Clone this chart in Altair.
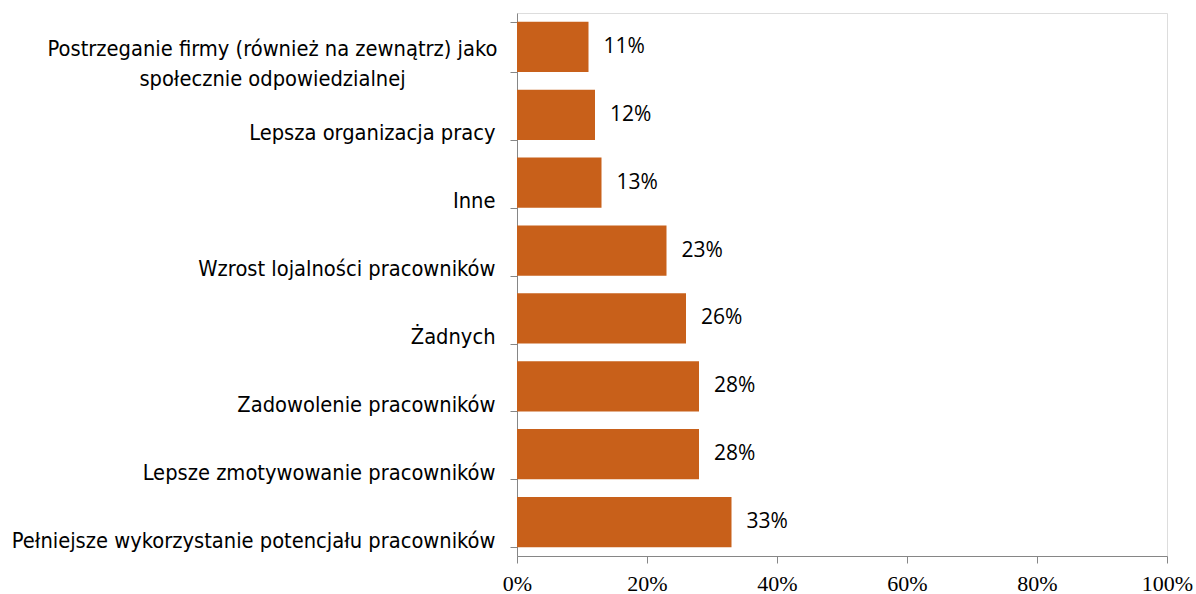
import altair as alt
import pandas as pd

categories = [
    "Postrzeganie firmy (również na zewnątrz) jako|społecznie odpowiedzialnej",
    "Lepsza organizacja pracy",
    "Inne",
    "Wzrost lojalności pracowników",
    "Żadnych",
    "Zadowolenie pracowników",
    "Lepsze zmotywowanie pracowników",
    "Pełniejsze wykorzystanie potencjału pracowników",
]
values = [0.11, 0.12, 0.13, 0.23, 0.26, 0.28, 0.28, 0.33]
x_ticks = [0, 0.2, 0.4, 0.6, 0.8, 1.0]

df = pd.DataFrame({"cat": categories, "val": values})
first = categories[0]

CAT_FONT = "'DejaVu Sans Condensed', 'Open Sans', sans-serif"
FONT = "Open Sans"

y_enc = alt.Y(
    "cat:N",
    sort=categories,
    scale=alt.Scale(paddingInner=0.26, paddingOuter=0.13),
    axis=alt.Axis(
        title=None,
        domainColor="#868686",
        tickColor="#868686",
        tickBand="extent",
        tickSize=7,
        labelFont=CAT_FONT,
        labelFontSize=21.7,
        labelColor="#000000",
        labelLimit=600,
        labelLineHeight=30,
        labelExpr="split(datum.label, '|')",
        labelAlign=alt.expr(f"datum.value == '{first}' ? 'center' : 'right'"),
        labelPadding=alt.expr(f"datum.value == '{first}' ? 238 : 15"),
        labelOffset=alt.expr(f"datum.value == '{first}' ? 2 : 18"),
    ),
)

x_enc = alt.X(
    "val:Q",
    scale=alt.Scale(domain=[0, 1], nice=False),
    axis=alt.Axis(
        title=None,
        values=x_ticks,
        format=".0%",
        grid=False,
        domainColor="#868686",
        tickColor="#868686",
        tickSize=7,
        labelFont="Liberation Serif",
        labelFontSize=22,
        labelColor="#000000",
        labelPadding=10,
        labelFlush=False,
    ),
)

bars = alt.Chart(df).mark_bar(color="#C8601A").encode(x=x_enc, y=y_enc)

labels = alt.Chart(df).mark_text(
    align="left", baseline="middle", dx=15, font=FONT, fontSize=21, color="#000000"
).encode(
    x="val:Q",
    y=alt.Y("cat:N", sort=categories),
    text=alt.Text("val:Q", format=".0%"),
)

chart = (
    alt.layer(bars, labels)
    .properties(
        width=650,
        height=543,
        autosize=alt.AutoSizeParams(type="none"),
        padding={"left": 517, "top": 13, "right": 29, "bottom": 38},
    )
    .configure_view(stroke=None)
    .configure(background="#ffffff")
)

chart.save("out.html", embed_options={"renderer": "svg", "actions": False})
